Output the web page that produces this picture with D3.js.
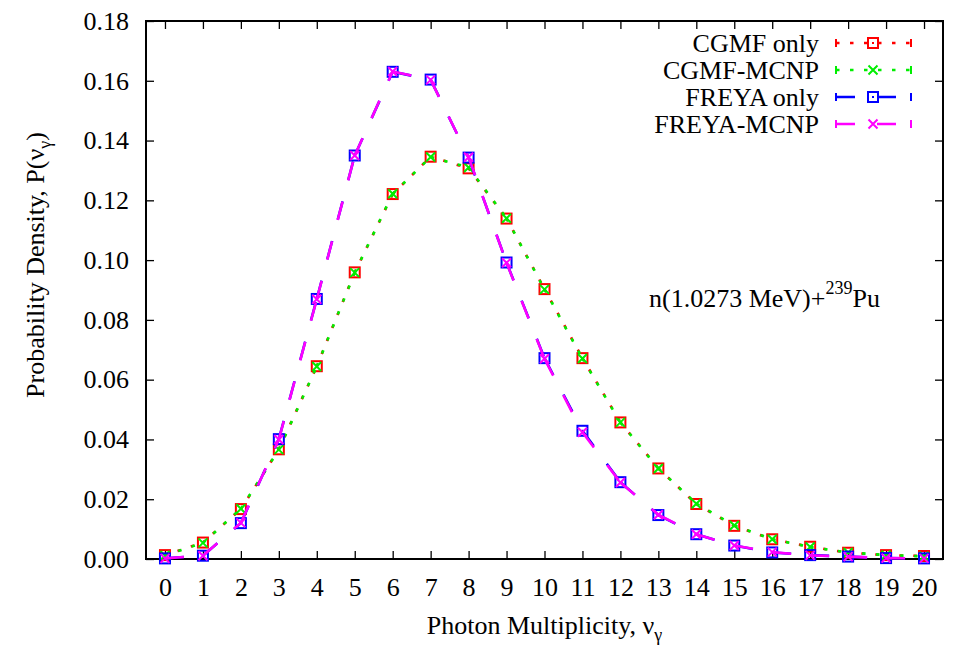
<!DOCTYPE html>
<html>
<head>
<meta charset="utf-8">
<script src="https://cdn.jsdelivr.net/npm/d3@7"></script>
<style>
  body { margin: 0; background: #fff; }
  svg text { font-family: "Liberation Serif", "DejaVu Serif", serif; fill: #000; }
</style>
</head>
<body>
<svg id="chart" width="956" height="646"></svg>
<script>
// photon multiplicity values on the x axis
const nu = d3.range(0, 21);

// probability density per series
const cgmfOnly = [0.0013, 0.0055, 0.0167, 0.0367, 0.0645, 0.0959, 0.1221, 0.1346, 0.1307, 0.1139,
  0.0903, 0.0672, 0.0457, 0.0303, 0.0184, 0.0111, 0.0066, 0.0041, 0.0021, 0.0013, 0.0010];
const cgmfMcnp = [0.0012, 0.0054, 0.0168, 0.0366, 0.0644, 0.0958, 0.1222, 0.1345, 0.1310, 0.1140,
  0.0902, 0.0671, 0.0457, 0.0303, 0.0185, 0.0112, 0.0066, 0.0040, 0.0022, 0.0013, 0.0009];
const freyaOnly = [0.0002, 0.0011, 0.0120, 0.0401, 0.0870, 0.1350, 0.1630, 0.1604, 0.1343, 0.0992,
  0.0672, 0.0429, 0.0257, 0.0147, 0.0083, 0.0045, 0.0022, 0.0013, 0.0008, 0.0003, 0.0002];
const freyaMcnp = [0.0002, 0.0011, 0.0121, 0.0400, 0.0869, 0.1350, 0.1631, 0.1603, 0.1344, 0.0991,
  0.0670, 0.0424, 0.0256, 0.0148, 0.0083, 0.0045, 0.0023, 0.0012, 0.0008, 0.0003, 0.0002];

const seriesNames = ["CGMF only", "CGMF-MCNP", "FREYA only", "FREYA-MCNP"];
const yTicks = [0, 0.02, 0.04, 0.06, 0.08, 0.10, 0.12, 0.14, 0.16, 0.18];

const series = [
  {name: seriesNames[0], values: cgmfOnly, color: "#ff0000", dash: "3.5,10.5", offset: 0.8, mark: "square"},
  {name: seriesNames[1], values: cgmfMcnp, color: "#00ee00", dash: "3.5,10.5", offset: 0, mark: "cross"},
  {name: seriesNames[2], values: freyaOnly, color: "#0000ff", dash: "19,22", offset: 0, mark: "square"},
  {name: seriesNames[3], values: freyaMcnp, color: "#ff00ff", dash: "19,22", offset: 0, mark: "cross"}
];

const margin = {top: 21, right: 13, bottom: 87, left: 146},
  width = 956 - margin.left - margin.right,
  height = 646 - margin.top - margin.bottom;

const x = d3.scaleLinear().domain([-0.5, 20.5]).range([0, width]);
const y = d3.scaleLinear().domain([0, 0.18]).range([height, 0]);

const svg = d3.select("#chart");
const g = svg.append("g")
  .attr("transform", "translate(" + margin.left + "," + margin.top + ")");

// axes with inward ticks
const xAxis = d3.axisBottom(x).tickValues(nu).tickFormat(d3.format("d"))
  .tickSizeInner(-8).tickSizeOuter(0).tickPadding(18.5);
const yAxis = d3.axisLeft(y).tickValues(yTicks).tickFormat(d3.format(".2f"))
  .tickSizeInner(-8).tickSizeOuter(0).tickPadding(17);

g.append("g").attr("transform", "translate(0," + height + ")").call(xAxis);
g.append("g").call(yAxis);
g.append("g").call(d3.axisTop(x).tickValues(nu).tickFormat("").tickSizeInner(-8).tickSizeOuter(0));
g.append("g").attr("transform", "translate(" + width + ",0)")
  .call(d3.axisRight(y).tickValues(yTicks).tickFormat("").tickSizeInner(-8).tickSizeOuter(0));

g.selectAll(".domain").remove();
g.selectAll(".tick line").attr("stroke", "#000").attr("stroke-width", 1.3);
g.selectAll(".tick text").style("font-size", "26px").style("font-family", "Liberation Serif");

// frame
g.append("rect")
  .attr("width", width).attr("height", height)
  .attr("fill", "none").attr("stroke", "#000").attr("stroke-width", 2);

function drawMark(sel, type, color) {
  if (type === "square") {
    sel.append("rect").attr("x", -5).attr("y", -5).attr("width", 10).attr("height", 10)
      .attr("fill", "none").attr("stroke", color).attr("stroke-width", 2);
    sel.append("rect").attr("x", -1).attr("y", -1).attr("width", 2).attr("height", 2)
      .attr("fill", color);
  } else {
    sel.append("path").attr("d", "M-4.5,-4.5L4.5,4.5M-4.5,4.5L4.5,-4.5")
      .attr("stroke", color).attr("stroke-width", 2).attr("fill", "none");
  }
}

const plot = g.append("g");

series.forEach(function(s) {
  const pts = nu.map(function(n, i) { return {x: n, y: s.values[i]}; });
  const segs = d3.pairs(pts);

  // each segment restarts the dash pattern, like the original terminal did
  plot.append("g").selectAll("line")
    .data(segs)
    .join("line")
    .attr("x1", function(d) { return x(d[0].x); })
    .attr("y1", function(d) { return y(d[0].y); })
    .attr("x2", function(d) { return x(d[1].x); })
    .attr("y2", function(d) { return y(d[1].y); })
    .attr("stroke", s.color)
    .attr("stroke-width", 2.6)
    .attr("stroke-dasharray", s.dash)
    .attr("stroke-dashoffset", s.offset);

  plot.append("g").selectAll("g")
    .data(pts)
    .join("g")
    .attr("transform", function(d) { return "translate(" + x(d.x) + "," + y(d.y) + ")"; })
    .each(function() { drawMark(d3.select(this), s.mark, s.color); });
});

// legend
const legend = svg.append("g");
series.forEach(function(s, i) {
  const ly = 43 + i * 27;
  legend.append("text")
    .attr("x", 819).attr("y", ly)
    .attr("text-anchor", "end")
    .attr("dominant-baseline", "central")
    .style("font-size", "26px")
    .text(s.name);
  legend.append("line")
    .attr("x1", 836).attr("x2", 911).attr("y1", ly).attr("y2", ly)
    .attr("stroke", s.color).attr("stroke-width", 2.6)
    .attr("stroke-dasharray", s.dash);
  [836, 911].forEach(function(cx) {
    legend.append("line")
      .attr("x1", cx).attr("x2", cx).attr("y1", ly - 4).attr("y2", ly + 4)
      .attr("stroke", s.color).attr("stroke-width", 2);
  });
  drawMark(legend.append("g").attr("transform", "translate(873," + ly + ")"), s.mark, s.color);
});

// reaction label
const label = svg.append("text")
  .attr("x", 649).attr("y", 307)
  .style("font-size", "26px");
label.append("tspan").text("n(1.0273 MeV)+");
label.append("tspan").attr("dy", -13).style("font-size", "18px").text("239");
label.append("tspan").attr("dy", 13).text("Pu");

// axis titles
const xt = svg.append("text")
  .attr("x", margin.left + x(10)).attr("y", 634)
  .attr("text-anchor", "middle")
  .style("font-size", "26px");
xt.append("tspan").text("Photon Multiplicity, ν");
xt.append("tspan").attr("dy", 7).style("font-size", "18px").text("γ");

const yt = svg.append("text")
  .attr("transform", "translate(44,265) rotate(-90)")
  .attr("text-anchor", "middle")
  .style("font-size", "26px");
yt.append("tspan").text("Probability Density, P(ν");
yt.append("tspan").attr("dy", 7).style("font-size", "18px").text("γ");
yt.append("tspan").attr("dy", -7).text(")");
</script>
</body>
</html>
